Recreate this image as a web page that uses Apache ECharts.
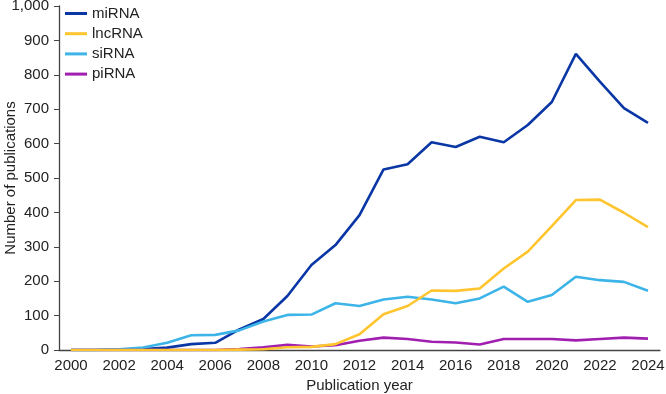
<!DOCTYPE html>
<html>
<head>
<meta charset="utf-8">
<script src="https://cdn.jsdelivr.net/npm/echarts@6/dist/echarts.min.js"></script>
<style>
    html, body { margin: 0; padding: 0; background: #fff; }
    #chart_con { width: 666px; height: 394px; }
</style>
</head>
<body>
<div id="chart_con"></div>
<script>
    // data
    let years = ['2000', '2001', '2002', '2003', '2004', '2005', '2006', '2007', '2008', '2009', '2010', '2011', '2012',
        '2013', '2014', '2015', '2016', '2017', '2018', '2019', '2020', '2021', '2022', '2023', '2024']
    let miRNA = [0, 0, 1, 3, 7, 17, 21, 60, 90, 157, 247, 305, 392, 525, 540, 604, 590, 620, 604, 654, 721, 861, 780, 703, 660]
    let lncRNA = [0, 0, 0, 0, 0, 0, 0, 1, 2, 8, 9, 17, 46, 104, 128, 173, 172, 179, 237, 286, 360, 436, 437, 399, 357]
    let siRNA = [0, 0, 2, 7, 21, 43, 44, 57, 83, 102, 103, 136, 128, 147, 155, 147, 136, 150, 184, 140, 160, 213, 203, 198, 172]
    let piRNA = [0, 0, 0, 0, 0, 0, 0, 3, 8, 15, 10, 14, 27, 36, 32, 24, 22, 16, 32, 32, 32, 28, 32, 36, 33]
    let yTicks = [0, 100, 200, 300, 400, 500, 600, 700, 800, 900, 1000]

    let textColor = '#222'
    let font = 'Liberation Sans, Arial, sans-serif'

    let chart = echarts.init(document.getElementById('chart_con'))

    function mkLine(name, data, color, z) {
        return {
            name: name,
            type: 'line',
            data: data,
            symbol: 'none',
            z: z,
            lineStyle: { color: color, width: 2.6 },
            itemStyle: { color: color }
        }
    }

    const option = {
        animation: false,
        textStyle: { fontFamily: font },
        legend: {
            orient: 'vertical',
            left: 65,
            top: 6,
            padding: 0,
            itemWidth: 22,
            itemHeight: 3,
            itemGap: 5.2,
            icon: 'rect',
            data: ['miRNA', 'lncRNA', 'siRNA', 'piRNA'],
            textStyle: { fontSize: 15, color: textColor, fontFamily: font, padding: [0, 0, 0, 0] }
        },
        grid: {
            left: 59,
            right: 6,
            top: 6,
            bottom: 44,
            containLabel: false,
            outerBoundsMode: 'none'
        },
        xAxis: {
            type: 'category',
            data: years,
            boundaryGap: true,
            name: 'Publication year',
            nameLocation: 'middle',
            nameGap: 28,
            nameTextStyle: { fontSize: 15, color: textColor, fontFamily: font },
            axisLine: { lineStyle: { color: '#444', width: 1.3 } },
            axisTick: { alignWithLabel: true, interval: 0, length: 5, lineStyle: { color: '#444' } },
            axisLabel: { interval: 1, fontSize: 15, color: textColor, margin: 8, fontFamily: font },
            splitLine: { show: false }
        },
        yAxis: {
            type: 'value',
            min: yTicks[0],
            max: yTicks[yTicks.length - 1],
            interval: 100,
            name: 'Number of publications',
            nameLocation: 'middle',
            nameGap: 41,
            nameMoveOverlap: false,
            nameTextStyle: { fontSize: 15, color: textColor, fontFamily: font },
            splitLine: { show: false },
            axisLine: { show: true, lineStyle: { color: '#444', width: 1.3 } },
            axisTick: { show: true, length: 5, lineStyle: { color: '#444' } },
            axisLabel: {
                fontSize: 15,
                color: textColor,
                margin: 10,
                fontFamily: font,
                formatter: function (v) { return v.toLocaleString('en-US') }
            }
        },
        series: [
            mkLine('miRNA', miRNA, '#0a37a5', 2),
            mkLine('siRNA', siRNA, '#3db4e8', 3),
            mkLine('piRNA', piRNA, '#a11fb0', 4),
            mkLine('lncRNA', lncRNA, '#ffc52e', 5)
        ]
    }

    chart.setOption(option)
</script>
</body>
</html>
